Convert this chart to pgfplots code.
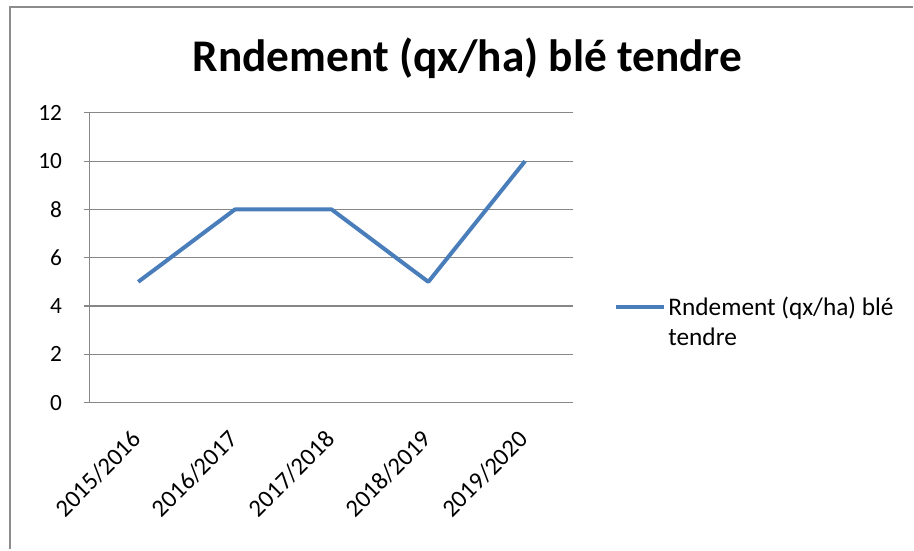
\documentclass[border=0pt]{standalone}
\usepackage{pgfplots}
\pgfplotsset{compat=1.18}
\usepackage{fontspec}
\setmainfont{Carlito}
\definecolor{serie}{HTML}{4A7EBB}
\definecolor{gridc}{HTML}{878787}
\definecolor{framec}{HTML}{8C8C8C}
\begin{document}
\begin{tikzpicture}[x=0.75pt,y=0.75pt]
\path (0,0) rectangle (914,550);
\draw[color=framec, line width=1.5pt] (10,0) -- (10,543) -- (914,543);
\node[font=\bfseries\fontsize{34}{40}\selectfont, anchor=base, inner sep=0pt] at (468,478) {Rndement (qx/ha) blé tendre};
\begin{axis}[
  at={(67.5pt,110.25pt)}, anchor=south west,
  scale only axis, width=363pt, height=217.5pt,
  xmin=-0.5, xmax=4.5, ymin=0, ymax=12,
  ytick={0,2,...,12},
  xtick={0,1,2,3,4},
  xticklabels={2015/2016,2016/2017,2017/2018,2018/2019,2019/2020},
  axis lines*=left,
  axis line style={gridc, line width=0.8pt},
  ymajorgrids, grid style={gridc, line width=0.8pt},
  tick align=outside,
  ytick style={gridc, line width=0.8pt},
  y tick label style={font=\fontsize{17.5}{20}\selectfont, xshift=-13pt},
  x tick style={draw=none},
  x tick label style={font=\fontsize{18.5}{22}\selectfont, xshift=-5.8pt, yshift=-14.9pt, rotate=45, anchor=north east, inner sep=0pt},
  major tick length=4.5pt,
  extra x ticks={-0.5,0.5,1.5,2.5,3.5,4.5},
  extra x tick labels={},
  extra x tick style={major tick length=4.5pt, tick style={draw=gridc, line width=0.8pt}},
  /pgf/number format/assume math mode=true,
  legend style={at={(1.083,0.38)}, anchor=north west, draw=none, fill=none, inner sep=0pt,
    font=\fontsize{19}{22}\selectfont, cells={anchor=west}},
  legend image code/.code={\draw[#1] (0pt,0pt) -- (36pt,0pt);},
  clip=false,
]
\addplot[serie, line width=3pt, line join=round] coordinates {(0,5) (1,8) (2,8) (3,5) (4,10)};
\addlegendentry{\begin{tabular}[t]{@{}l@{}}Rndement (qx/ha) blé\\tendre\end{tabular}}
\end{axis}
\end{tikzpicture}
\end{document}
